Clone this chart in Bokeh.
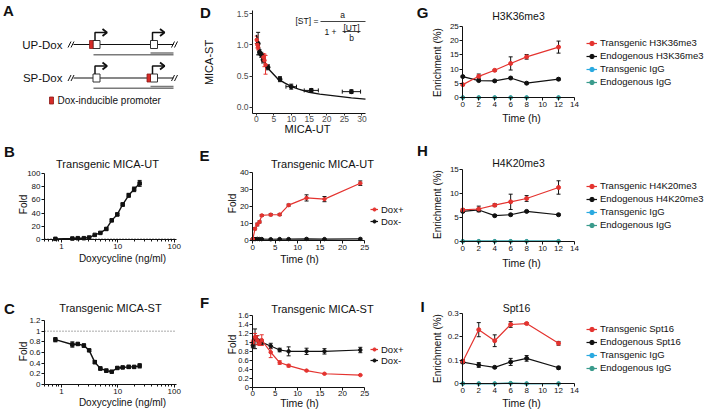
import math
from bokeh.plotting import figure
from bokeh.models import (Range1d, Label, Legend, LegendItem, Whisker, TeeHead,
                          ColumnDataSource, FixedTicker, CustomJSTickFormatter)
from bokeh.layouts import gridplot
from bokeh.embed import file_html
from bokeh.resources import INLINE

# ---------------- data ----------------
# B / C : dose response to doxycycline
dox_ng_ml = [0.78, 1.56, 1.95, 2.5, 3.1, 3.9, 4.9, 6.25, 7.8, 9.8, 12.2, 15.6, 19.5, 24.4]
ut_fold = [1.0, 1.5, 2.0, 2.0, 3.0, 7.0, 10.0, 16.0, 29.0, 38.0, 53.0, 67.0, 76.0, 85.0]
ut_fold_err = [0.5, 0.8, 0.8, 0.6, 0.6, 0.8, 1.0, 1.5, 2.0, 2.0, 2.5, 3.0, 3.5, 4.5]
st_fold = [0.84, 0.75, 0.76, 0.73, 0.64, 0.42, 0.30, 0.26, 0.24, 0.31, 0.32, 0.33, 0.33, 0.35]
st_fold_err = [0.04, 0.05, 0.02, 0.03, 0.02, 0.03, 0.03, 0.03, 0.02, 0.02, 0.02, 0.03, 0.02, 0.04]
dox_ticks = [1, 10, 100]
dox_minor = [0.5, 0.6, 0.7, 0.8, 0.9, 2, 3, 4, 5, 6, 7, 8, 9, 20, 30, 40, 50, 60, 70, 80, 90]
ut_fold_ticks = [0, 20, 40, 60, 80, 100]
st_fold_ticks = [0, 0.2, 0.4, 0.6, 0.8, 1.0, 1.2]

# D : MICA-ST versus MICA-UT
d_ut_black = [0.5, 0.9, 1.4, 1.9, 3.3, 6.7, 9.9, 15.6, 27.0]
d_st_black = [1.02, 0.88, 0.84, 0.76, 0.64, 0.45, 0.33, 0.27, 0.25]
d_st_black_err = [0.18, 0.04, 0.04, 0.05, 0.04, 0.04, 0.04, 0.03, 0.03]
d_ut_black_err = [0.2, 0.2, 0.2, 0.3, 0.3, 0.4, 1.5, 2.0, 2.6]
d_ut_red = [0.1, 0.3, 0.5, 2.0, 2.3, 2.6]
d_st_red = [1.08, 1.0, 0.96, 0.8, 0.75, 0.68]
d_st_red_err = [0.06, 0.05, 0.04, 0.06, 0.10, 0.15]
d_fit_ut = [0, 1, 2, 3, 4, 5, 6, 8, 10, 12, 15, 18, 21, 24, 27, 31]
d_fit_st = [1.16, 0.93, 0.77, 0.66, 0.58, 0.52, 0.46, 0.39, 0.33, 0.29, 0.24, 0.21, 0.19, 0.17, 0.15, 0.13]
d_x_ticks = [0, 5, 10, 15, 20, 25, 30]
d_y_ticks = [0, 0.5, 1.0, 1.5]

# E / F : time course
time_h = [0, 0.5, 1, 1.5, 2, 4, 6, 8, 12, 16, 24]
ut_plus = [1.0, 7.0, 9.5, 11.0, 14.8, 15.2, 15.3, 20.8, 25.0, 24.3, 33.6]
ut_plus_err = [0.2, 0.6, 0.8, 0.6, 0.5, 0.6, 0.6, 0.6, 1.8, 1.5, 1.3]
ut_minus = [1.0, 1.0, 1.1, 1.0, 1.0, 0.9, 1.0, 1.0, 1.1, 1.0, 1.1]
ut_minus_err = [0.2, 0.3, 0.3, 0.2, 0.2, 0.2, 0.2, 0.3, 0.4, 0.3, 0.4]
st_plus = [1.0, 1.12, 1.05, 0.98, 1.05, 0.78, 0.55, 0.48, 0.37, 0.30, 0.27]
st_plus_err = [0.05, 0.08, 0.10, 0.05, 0.12, 0.12, 0.04, 0.03, 0.01, 0.01, 0.01]
st_minus = [0.93, 1.08, 1.05, 1.02, 1.0, 0.92, 0.83, 0.80, 0.80, 0.80, 0.83]
st_minus_err = [0.05, 0.22, 0.10, 0.05, 0.05, 0.06, 0.04, 0.10, 0.07, 0.06, 0.06]
time_ticks = [0, 5, 10, 15, 20, 25]
ut_time_ticks = [0, 10, 20, 30, 40]
st_time_ticks = [0, 0.2, 0.4, 0.6, 0.8, 1.0, 1.2, 1.4, 1.6]

# G / H / I : ChIP enrichment
chip_t = [0, 2, 4, 6, 8, 12]
g_trans = [4.6, 7.5, 9.6, 12.0, 14.3, 17.7]
g_trans_err = [0.3, 0.8, 0.3, 2.3, 0.8, 2.1]
g_endo = [7.4, 6.0, 5.9, 6.9, 5.1, 6.5]
g_endo_err = [0.3, 0.3, 0.3, 0.3, 0.3, 0.4]
g_igg_t = [0.1, 0.1, 0.1, 0.1, 0.1, 0.1]
g_igg_e = [0.1, 0.1, 0.1, 0.1, 0.1, 0.1]
h_trans = [6.6, 6.8, 7.6, 8.3, 9.0, 11.3]
h_trans_err = [0.2, 0.6, 0.3, 1.6, 0.6, 1.4]
h_endo = [6.3, 6.6, 5.4, 5.6, 6.3, 5.6]
h_endo_err = [0.2, 0.3, 0.2, 0.2, 0.2, 0.2]
h_igg_t = [0.06, 0.06, 0.06, 0.06, 0.06, 0.06]
h_igg_e = [0.06, 0.06, 0.06, 0.06, 0.06, 0.06]
i_trans = [0.095, 0.23, 0.183, 0.252, 0.256, 0.172]
i_trans_err = [0.008, 0.03, 0.025, 0.012, 0.004, 0.008]
i_endo = [0.092, 0.08, 0.07, 0.093, 0.108, 0.068]
i_endo_err = [0.005, 0.01, 0.004, 0.015, 0.012, 0.006]
i_igg_t = [0.001, 0.001, 0.001, 0.002, 0.001, 0.001]
i_igg_e = [0.001, 0.001, 0.001, 0.003, 0.001, 0.001]
chip_x_ticks = [0, 2, 4, 6, 8, 10, 12, 14]
g_y_ticks = [0, 5, 10, 15, 20, 25]
h_y_ticks = [0, 5, 10, 15]
i_y_ticks = [0, 0.1, 0.2, 0.3]

# ---------------- styling / layout helpers ----------------
FONT = "Liberation Sans"
RED = "#e4332f"
BLK = "#111111"
BLUE = "#29a9e0"
TEAL = "#3a9b8c"

COL_X = [0, 196, 416]
COL_W = [196, 220, 292]
ROW_Y = [0, 135, 270]
ROW_H = [135, 135, 140]

num_fmt = CustomJSTickFormatter(code="return String(Math.round(tick*1000)/1000)")
one_dec_fmt = CustomJSTickFormatter(code="return tick.toFixed(1)")


class Cell:
    pass


def make_panel(col, row, frame, xlim, ylim, x_log=False, axes=True):
    cx0 = COL_X[col]; cx1 = cx0 + COL_W[col]
    cy0 = ROW_Y[row]; cy1 = cy0 + ROW_H[row]
    fl, ft, frr, fb = frame
    x0, x1 = xlim
    y0, y1 = ylim
    if x_log:
        lx0, lx1 = math.log10(x0), math.log10(x1)
        k = (lx1 - lx0) / (frr - fl)
        xs, xe = 10 ** (lx0 - (fl - cx0) * k), 10 ** (lx1 + (cx1 - frr) * k)
    else:
        k = (x1 - x0) / (frr - fl)
        xs, xe = x0 - (fl - cx0) * k, x1 + (cx1 - frr) * k
    k = (y1 - y0) / (fb - ft)
    ys, ye = y0 - (cy1 - fb) * k, y1 + (ft - cy0) * k
    kw = {}
    if not axes:
        kw = dict(x_axis_location=None, y_axis_location=None)
    p = figure(width=COL_W[col], height=ROW_H[row], x_range=Range1d(xs, xe), y_range=Range1d(ys, ye),
               x_axis_type="log" if x_log else "linear", toolbar_location=None,
               output_backend="svg", min_border_left=0, min_border_right=0,
               min_border_top=0, min_border_bottom=0, **kw)
    p.outline_line_color = None
    p.grid.visible = False
    p.background_fill_color = "white"
    p.border_fill_color = "white"
    if axes:
        p.xaxis.fixed_location = y0
        p.yaxis.fixed_location = x0
        p.xaxis.bounds = (x0, x1)
        p.yaxis.bounds = (y0, y1)
        for ax in (p.xaxis[0], p.yaxis[0]):
            ax.axis_line_color = BLK
            ax.axis_line_width = 1
            ax.major_tick_line_color = BLK
            ax.major_tick_in = 0
            ax.major_tick_out = 3
            ax.minor_tick_line_color = None
            ax.major_label_text_font = FONT
            ax.major_label_text_font_size = "8px"
            ax.major_label_text_color = BLK
            ax.major_label_standoff = 1
    c = Cell()
    c.x0, c.x1, c.y0, c.y1 = cx0, cx1, cy0, cy1
    c.xs, c.xe, c.ys, c.ye = xs, xe, ys, ye
    return p, c


def label(p, c, rx, ry, text, size="10px", bold=False, angle=0.0, align="center",
          baseline="middle", color=BLK):
    p.add_layout(Label(x=rx - c.x0, y=c.y1 - ry, x_units="screen", y_units="screen", text=text,
                       text_font=FONT, text_font_size=size,
                       text_font_style="bold" if bold else "normal",
                       text_align=align, text_baseline=baseline, text_color=color, angle=angle))


def to_data(c, rx, ry):
    return (c.xs + (rx - c.x0) / (c.x1 - c.x0) * (c.xe - c.xs),
            c.ys + (c.y1 - ry) / (c.y1 - c.y0) * (c.ye - c.ys))


def vbars(p, x, y, err, color, head=4):
    lo = [a - e for a, e in zip(y, err)]
    hi = [a + e for a, e in zip(y, err)]
    src = ColumnDataSource(dict(base=x, lower=lo, upper=hi))
    p.add_layout(Whisker(source=src, base="base", lower="lower", upper="upper", dimension="height",
                         line_color=color, line_width=1,
                         lower_head=TeeHead(size=head, line_color=color, line_width=1),
                         upper_head=TeeHead(size=head, line_color=color, line_width=1)))


def hbars(p, x, y, err, color, head=4):
    lo = [a - e for a, e in zip(x, err)]
    hi = [a + e for a, e in zip(x, err)]
    src = ColumnDataSource(dict(base=y, lower=lo, upper=hi))
    p.add_layout(Whisker(source=src, base="base", lower="lower", upper="upper", dimension="width",
                         line_color=color, line_width=1,
                         lower_head=TeeHead(size=head, line_color=color, line_width=1),
                         upper_head=TeeHead(size=head, line_color=color, line_width=1)))


def series(p, x, y, color, size=4, marker="circle", lw=1.2):
    l = p.line(x, y, line_color=color, line_width=lw)
    s = p.scatter(x, y, size=size, marker=marker, fill_color=color, line_color=color)
    return [l, s]


def add_legend(p, c, labels, rends, gx, bottom_ref, glyph_w, item_h, spacing, size):
    items = [LegendItem(label=t, renderers=r) for t, r in zip(labels, rends)]
    lg = Legend(items=items, location=(gx - c.x0, c.y1 - bottom_ref), orientation="vertical",
                glyph_width=glyph_w, glyph_height=item_h, label_height=item_h, spacing=spacing,
                padding=0, margin=0, label_standoff=3, border_line_color=None,
                background_fill_alpha=0, label_text_font=FONT, label_text_font_size=size,
                label_text_color=BLK)
    p.add_layout(lg)


# ---------------- A : constructs ----------------
pA, cA = make_panel(0, 0, (0, 0, 196, 135), (0, 196), (135, 0), axes=False)
constructs = ["UP-Dox", "SP-Dox"]
construct_y = [44, 77.5]
promoter_at = [0, 1]
box_x = [92.5, 150]
for name, y, pidx in zip(constructs, construct_y, promoter_at):
    pA.add_layout(Label(x=62, y=y, text=name, text_align="right", text_baseline="middle",
                        text_font=FONT, text_font_size="11.5px", text_color=BLK))
    pA.segment(x0=[73], y0=[y], x1=[173], y1=[y], line_color=BLK, line_width=1)
    pA.segment(x0=[67.5, 70.5, 171, 174], y0=[y + 3] * 4, x1=[70.5, 73.5, 174, 177],
               y1=[y - 3] * 4, line_color=BLK, line_width=1)
    pA.segment(x0=[93, 150], y0=[y + 10.3, y + 8.5], x1=[173, 173], y1=[y + 10.3, y + 8.5],
               line_color="#7a7a7a", line_width=1.5)
    pA.quad(left=box_x, right=[b + 7 for b in box_x], top=[y - 4] * 2, bottom=[y + 4] * 2,
            fill_color="white", line_color="#333333", line_width=1)
    pA.multi_line(xs=[[b + 2, b + 2, b + 13] for b in box_x], ys=[[y - 4, y - 12, y - 12]] * 2,
                  line_color=BLK, line_width=1.5)
    pA.multi_line(xs=[[b + 9.5, b + 14, b + 9.5] for b in box_x], ys=[[y - 15.5, y - 12, y - 8.5]] * 2,
                  line_color=BLK, line_width=1.8)
    bx = box_x[pidx]
    pA.quad(left=[bx - 3.5], right=[bx], top=[y - 4], bottom=[y + 4], fill_color="#d62b27",
            line_color="#8a1b17", line_width=0.8)
pA.quad(left=[49], right=[53], top=[96.5], bottom=[103.5], fill_color="#d62b27",
        line_color="#8a1b17", line_width=0.8)
pA.add_layout(Label(x=57, y=100, text="Dox-inducible promoter", text_align="left",
                    text_baseline="middle", text_font=FONT, text_font_size="10px", text_color=BLK))
pA.add_layout(Label(x=8, y=10, text="A", text_align="center", text_baseline="middle",
                    text_font=FONT, text_font_size="15px", text_font_style="bold", text_color=BLK))

# ---------------- B : MICA-UT dose response ----------------
pB, cB = make_panel(0, 1, (44, 173, 176, 239), (0.5, 110), (0, 100), x_log=True)
pB.xaxis.ticker = FixedTicker(ticks=dox_ticks, minor_ticks=dox_minor)
pB.xaxis.formatter = num_fmt
pB.xaxis.minor_tick_line_color = BLK
pB.xaxis.minor_tick_out = 2
pB.xaxis.minor_tick_in = 0
pB.yaxis.ticker = FixedTicker(ticks=ut_fold_ticks)
pB.yaxis.formatter = num_fmt
pB.segment(x0=[0.5], y0=[1], x1=[110], y1=[1], line_color="#555555", line_dash="1 2", line_width=1)
vbars(pB, dox_ng_ml, ut_fold, ut_fold_err, BLK)
series(pB, dox_ng_ml, ut_fold, BLK, size=3.5, marker="square", lw=1.4)
label(pB, cB, 9, 151, "B", size="15px", bold=True)
label(pB, cB, 107, 163, "Transgenic MICA-UT", size="11px")
label(pB, cB, 23, 204, "Fold", size="10px", angle=math.pi / 2)
label(pB, cB, 122, 258, "Doxycycline (ng/ml)", size="10px")

# ---------------- C : MICA-ST dose response ----------------
pC, cC = make_panel(0, 2, (44, 320, 176, 384), (0.5, 110), (0, 1.2), x_log=True)
pC.xaxis.ticker = FixedTicker(ticks=dox_ticks, minor_ticks=dox_minor)
pC.xaxis.formatter = num_fmt
pC.xaxis.minor_tick_line_color = BLK
pC.xaxis.minor_tick_out = 2
pC.xaxis.minor_tick_in = 0
pC.yaxis.ticker = FixedTicker(ticks=st_fold_ticks)
pC.yaxis.formatter = num_fmt
pC.segment(x0=[0.5], y0=[1], x1=[110], y1=[1], line_color="#555555", line_dash="1 2", line_width=1)
vbars(pC, dox_ng_ml, st_fold, st_fold_err, BLK)
series(pC, dox_ng_ml, st_fold, BLK, size=3.5, marker="square", lw=1.4)
label(pC, cC, 9, 308, "C", size="15px", bold=True)
label(pC, cC, 110, 307, "Transgenic MICA-ST", size="11px")
label(pC, cC, 23, 351, "Fold", size="10px", angle=math.pi / 2)
label(pC, cC, 122, 402, "Doxycycline (ng/ml)", size="10px")

# ---------------- D : ST vs UT ----------------
pD, cD = make_panel(1, 0, (252, 10, 365, 113), (-1.1, 31), (-0.1, 1.55))
pD.xaxis.ticker = FixedTicker(ticks=d_x_ticks)
pD.yaxis.ticker = FixedTicker(ticks=d_y_ticks)
pD.xaxis.formatter = num_fmt
pD.yaxis.formatter = one_dec_fmt
for ax in (pD.xaxis[0], pD.yaxis[0]):
    ax.major_tick_line_color = "#333333"
    ax.major_label_text_color = "#4d4d4d"
    ax.major_label_text_font_size = "8.5px"
pD.xaxis.major_tick_out = 2
pD.xaxis.major_label_standoff = 0
pD.line(d_fit_ut, d_fit_st, line_color=BLK, line_width=1.4)
hbars(pD, d_ut_black, d_st_black, d_ut_black_err, BLK, head=4)
vbars(pD, d_ut_black, d_st_black, d_st_black_err, BLK, head=4)
pD.scatter(d_ut_black, d_st_black, size=4, marker="circle", fill_color=BLK, line_color=BLK)
vbars(pD, d_ut_red, d_st_red, d_st_red_err, RED, head=4)
pD.scatter(d_ut_red, d_st_red, size=3.5, marker="circle", fill_color=RED, line_color=RED)

formula_bars = [(320, 365, 21), (342, 360, 31)]
bx0, by0, bx1, by1 = [], [], [], []
for a, b, yy in formula_bars:
    x0, y0 = to_data(cD, a, yy)
    x1, y1 = to_data(cD, b, yy)
    bx0.append(x0); by0.append(y0); bx1.append(x1); by1.append(y1)
pD.segment(x0=bx0, y0=by0, x1=bx1, y1=by1, line_color=BLK, line_width=0.8)
label(pD, cD, 295, 20, "[ST] =", size="8.5px", align="left")
label(pD, cD, 342, 14, "a", size="8.5px")
label(pD, cD, 324, 31, "1 +", size="8.5px", align="left")
label(pD, cD, 351, 27, "[UT]", size="8.5px")
label(pD, cD, 351, 37, "b", size="8.5px")
label(pD, cD, 205, 12, "D", size="15px", bold=True)
label(pD, cD, 208, 62, "MICA-ST", size="11px", angle=math.pi / 2)
label(pD, cD, 307, 128, "MICA-UT", size="11px")

# ---------------- E : MICA-UT time course ----------------
pE, cE = make_panel(1, 1, (252.3, 171.7, 364.3, 240.3), (0, 25), (0, 40))
pE.xaxis.ticker = FixedTicker(ticks=time_ticks)
pE.yaxis.ticker = FixedTicker(ticks=ut_time_ticks)
pE.xaxis.formatter = num_fmt
pE.yaxis.formatter = num_fmt
vbars(pE, time_h, ut_minus, ut_minus_err, BLK)
e_minus = series(pE, time_h, ut_minus, BLK, size=3.5)
vbars(pE, time_h, ut_plus, ut_plus_err, BLK)
e_plus = series(pE, time_h, ut_plus, RED, size=3.5)
add_legend(pE, cE, ["Dox+", "Dox-"], [e_plus, e_minus], 370, 226.5, 8, 10, 1, "9.5px")
label(pE, cE, 204, 155, "E", size="15px", bold=True)
label(pE, cE, 322, 163, "Transgenic MICA-UT", size="11px")
label(pE, cE, 232, 203, "Fold", size="10px", angle=math.pi / 2)
label(pE, cE, 299, 258, "Time (h)", size="10.5px")

# ---------------- F : MICA-ST time course ----------------
pF, cF = make_panel(1, 2, (252.3, 315, 364.3, 386.7), (0, 25), (0, 1.6))
pF.xaxis.ticker = FixedTicker(ticks=time_ticks)
pF.yaxis.ticker = FixedTicker(ticks=st_time_ticks)
pF.xaxis.formatter = num_fmt
pF.yaxis.formatter = num_fmt
pF.yaxis.major_label_text_font_size = "7.5px"
vbars(pF, time_h, st_minus, st_minus_err, BLK)
f_minus = series(pF, time_h, st_minus, BLK, size=3.5)
vbars(pF, time_h, st_plus, st_plus_err, RED)
f_plus = series(pF, time_h, st_plus, RED, size=3.5)
add_legend(pF, cF, ["Dox+", "Dox-"], [f_plus, f_minus], 370, 365.5, 8, 10, 0, "9.5px")
label(pF, cF, 204, 302, "F", size="15px", bold=True)
label(pF, cF, 322, 308, "Transgenic MICA-ST", size="11px")
label(pF, cF, 232, 344, "Fold", size="10px", angle=math.pi / 2)
label(pF, cF, 299, 402, "Time (h)", size="10.5px")


# ---------------- G / H / I : ChIP ----------------
def chip_panel(row, frame, ymax, yticks, trans, trans_err, endo, endo_err, igg_t, igg_e,
               mark, title, title_xy, letter_y, ylab_y, xlab_y, leg_bottom, mod):
    p, c = make_panel(2, row, frame, (0, 14), (0, ymax))
    p.xaxis.ticker = FixedTicker(ticks=chip_x_ticks)
    p.yaxis.ticker = FixedTicker(ticks=yticks)
    p.xaxis.formatter = num_fmt
    p.yaxis.formatter = num_fmt
    r_igg_t = series(p, chip_t, igg_t, BLUE, size=3.5)
    r_igg_e = series(p, chip_t, igg_e, TEAL, size=3.5)
    vbars(p, chip_t, endo, endo_err, BLK)
    r_endo = series(p, chip_t, endo, BLK, size=4)
    vbars(p, chip_t, trans, trans_err, BLK)
    r_trans = series(p, chip_t, trans, RED, size=4)
    add_legend(p, c, ["Transgenic " + mod, "Endogenous " + mod, "Transgenic IgG", "Endogenous IgG"],
               [r_trans, r_endo, r_igg_t, r_igg_e], 586, leg_bottom, 11, 12, 1, "9.5px")
    label(p, c, 422, letter_y, mark, size="15px", bold=True)
    label(p, c, title_xy[0], title_xy[1], title, size="10.5px")
    label(p, c, 437, ylab_y, "Enrichment (%)", size="10px", angle=math.pi / 2)
    label(p, c, 521, xlab_y, "Time (h)", size="10.5px")
    return p


pG = chip_panel(0, (462.3, 25.7, 574, 97.3), 25, g_y_ticks, g_trans, g_trans_err, g_endo, g_endo_err,
                g_igg_t, g_igg_e, "G", "H3K36me3", (518, 15), 12, 62, 117, 87.5, "H3K36me3")
pH = chip_panel(1, (462.3, 169.3, 574, 241), 15, h_y_ticks, h_trans, h_trans_err, h_endo, h_endo_err,
                h_igg_t, h_igg_e, "H", "H4K20me3", (518, 162), 150, 204, 262, 230.5, "H4K20me3")
pI = chip_panel(2, (462.3, 312.7, 574, 383.3), 0.3, i_y_ticks, i_trans, i_trans_err, i_endo, i_endo_err,
                i_igg_t, i_igg_e, "I", "Spt16", (516, 307), 306, 348, 402, 373.5, "Spt16")

grid = gridplot([[pA, pD, pG], [pB, pE, pH], [pC, pF, pI]], toolbar_location=None)

with open("out.html", "w") as f:
    f.write(file_html(grid, INLINE, title="MICA transgene figure"))
